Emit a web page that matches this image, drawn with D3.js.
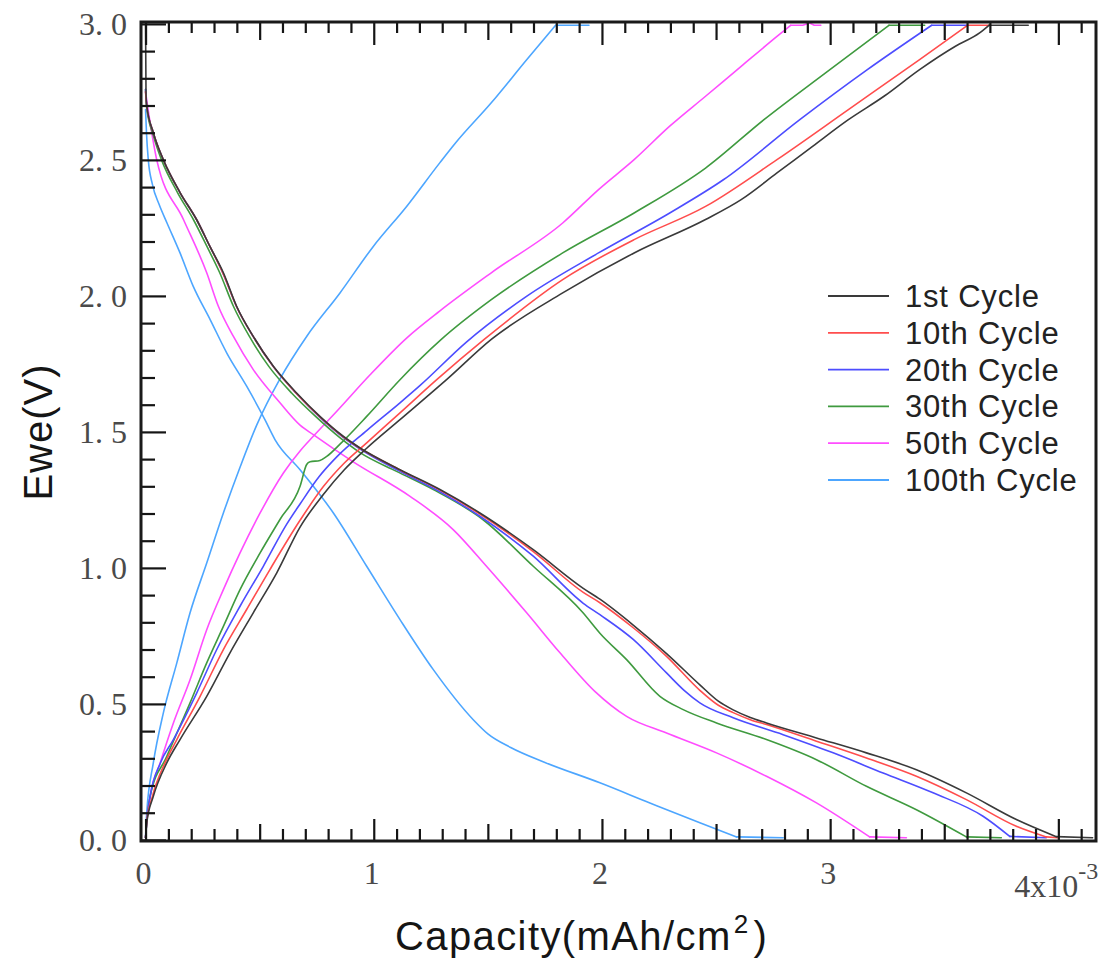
<!DOCTYPE html>
<html>
<head>
<meta charset="utf-8">
<script src="https://cdn.jsdelivr.net/npm/d3@7"></script>
<style>
  html, body { margin: 0; padding: 0; background: #fff; }
  svg { display: block; }
</style>
</head>
<body>
<svg id="chart" width="1109" height="976"></svg>
<script>
// ---------------- DATA ----------------
const cycleNames = ["1st Cycle", "10th Cycle", "20th Cycle", "30th Cycle", "50th Cycle", "100th Cycle"];
const cycleColors = ["#3a3a3a", "#ff4d4d", "#4d4dff", "#3f9a3f", "#ff4dff", "#4da6ff"];

// discharge curves [capacity (x10^-3 mAh/cm2), Ewe (V)]
const dis1 = [[0,2.995],[0.002,2.74],[0.005,2.70],[0.034,2.60],[0.078,2.50],[0.151,2.38],[0.224,2.28],[0.283,2.18],[0.341,2.085],[0.399,1.962],[0.472,1.851],[0.56,1.741],[0.662,1.643],[0.764,1.557],[0.866,1.484],[0.94,1.441],[1.115,1.361],[1.29,1.288],[1.465,1.202],[1.699,1.067],[1.918,0.925],[1.991,0.885],[2.137,0.79],[2.283,0.685],[2.429,0.57],[2.51,0.51],[2.575,0.478],[2.65,0.45],[2.721,0.43],[2.94,0.375],[3.159,0.32],[3.378,0.258],[3.597,0.173],[3.816,0.075],[3.991,0.012],[4.15,0.008]];
const dis10 = [[0,2.75],[0.005,2.70],[0.034,2.60],[0.078,2.50],[0.151,2.38],[0.224,2.28],[0.283,2.18],[0.341,2.08],[0.399,1.96],[0.472,1.85],[0.56,1.74],[0.662,1.64],[0.764,1.555],[0.866,1.482],[0.94,1.44],[1.115,1.36],[1.29,1.286],[1.465,1.198],[1.699,1.06],[1.918,0.91],[1.991,0.872],[2.137,0.78],[2.283,0.675],[2.429,0.55],[2.51,0.495],[2.575,0.468],[2.65,0.442],[2.721,0.424],[2.94,0.363],[3.159,0.301],[3.378,0.234],[3.597,0.148],[3.816,0.05],[3.947,0.011],[3.997,0.008]];
const dis20 = [[0,2.76],[0.005,2.70],[0.034,2.60],[0.078,2.50],[0.151,2.38],[0.224,2.28],[0.283,2.18],[0.341,2.08],[0.399,1.96],[0.472,1.85],[0.56,1.74],[0.662,1.64],[0.764,1.553],[0.866,1.48],[0.94,1.437],[1.115,1.355],[1.29,1.28],[1.465,1.19],[1.699,1.043],[1.918,0.87],[1.991,0.828],[2.137,0.737],[2.283,0.614],[2.36,0.55],[2.429,0.504],[2.575,0.449],[2.794,0.387],[3.013,0.32],[3.232,0.246],[3.451,0.173],[3.67,0.087],[3.787,0.013],[3.947,0.008]];
const dis30 = [[0,2.76],[0.005,2.69],[0.034,2.59],[0.07,2.50],[0.14,2.38],[0.21,2.28],[0.27,2.18],[0.325,2.085],[0.385,1.962],[0.455,1.851],[0.54,1.741],[0.64,1.643],[0.745,1.557],[0.85,1.48],[0.94,1.424],[1.1,1.355],[1.261,1.288],[1.478,1.178],[1.699,1.006],[1.916,0.836],[1.991,0.76],[2.108,0.663],[2.254,0.528],[2.356,0.479],[2.502,0.43],[2.721,0.369],[2.94,0.295],[3.159,0.197],[3.378,0.111],[3.597,0.011],[3.75,0.008]];
const dis50 = [[0,2.75],[0.027,2.60],[0.049,2.50],[0.166,2.281],[0.268,2.085],[0.319,1.962],[0.385,1.851],[0.472,1.729],[0.589,1.607],[0.677,1.525],[0.735,1.49],[0.91,1.39],[1.159,1.263],[1.348,1.141],[1.494,1.006],[1.67,0.835],[1.816,0.688],[1.97,0.545],[2.108,0.454],[2.283,0.393],[2.502,0.32],[2.721,0.234],[2.94,0.136],[3.173,0.011],[3.334,0.008]];
const dis100 = [[0,2.685],[0.004,2.60],[0.012,2.50],[0.03,2.41],[0.06,2.335],[0.093,2.27],[0.151,2.158],[0.209,2.035],[0.283,1.913],[0.356,1.79],[0.443,1.668],[0.523,1.545],[0.567,1.472],[0.677,1.361],[0.823,1.202],[0.969,1.006],[1.115,0.81],[1.261,0.626],[1.436,0.442],[1.5,0.39],[1.6,0.34],[1.75,0.285],[1.991,0.21],[2.21,0.136],[2.429,0.063],[2.59,0.011],[2.794,0.008]];

// charge curves
const chg1 = [[0,0.008],[0.005,0.062],[0.034,0.16],[0.093,0.283],[0.151,0.369],[0.268,0.528],[0.37,0.688],[0.472,0.835],[0.575,0.982],[0.677,1.15],[0.779,1.27],[0.87,1.36],[0.969,1.44],[1.115,1.545],[1.319,1.692],[1.515,1.84],[1.828,2.011],[2.141,2.158],[2.454,2.281],[2.61,2.354],[2.767,2.452],[2.923,2.55],[3.08,2.648],[3.236,2.734],[3.392,2.832],[3.549,2.918],[3.655,2.967],[3.696,2.995],[3.868,2.995]];
const chg10 = [[0,0.008],[0.005,0.065],[0.03,0.16],[0.085,0.283],[0.137,0.369],[0.239,0.528],[0.341,0.70],[0.443,0.847],[0.545,0.994],[0.677,1.175],[0.78,1.30],[0.87,1.385],[0.969,1.46],[1.115,1.57],[1.276,1.692],[1.484,1.84],[1.828,2.06],[2.141,2.207],[2.454,2.329],[2.767,2.501],[3.08,2.685],[3.392,2.869],[3.602,2.995],[3.703,2.995]];
const chg20 = [[0,0.008],[0.005,0.065],[0.02,0.16],[0.065,0.283],[0.122,0.369],[0.224,0.54],[0.312,0.70],[0.414,0.859],[0.516,1.006],[0.618,1.16],[0.677,1.235],[0.76,1.335],[0.84,1.41],[0.969,1.505],[1.115,1.607],[1.202,1.67],[1.406,1.83],[1.671,1.999],[1.985,2.158],[2.297,2.305],[2.532,2.427],[2.867,2.648],[3.16,2.83],[3.445,2.995],[3.603,2.995]];
const chg30 = [[0,0.008],[0.005,0.065],[0.02,0.16],[0.093,0.307],[0.195,0.504],[0.268,0.651],[0.341,0.785],[0.414,0.92],[0.502,1.055],[0.589,1.178],[0.677,1.30],[0.706,1.38],[0.721,1.39],[0.764,1.395],[0.794,1.41],[0.852,1.455],[0.969,1.557],[1.115,1.692],[1.296,1.84],[1.515,1.986],[1.828,2.158],[2.141,2.305],[2.454,2.47],[2.71,2.648],[2.98,2.82],[3.258,2.995],[3.414,2.995]];
const chg50 = [[0,0.008],[0.005,0.07],[0.02,0.16],[0.064,0.283],[0.122,0.43],[0.195,0.589],[0.268,0.773],[0.341,0.92],[0.414,1.055],[0.502,1.202],[0.604,1.349],[0.677,1.43],[0.735,1.484],[0.837,1.575],[0.984,1.71],[1.144,1.845],[1.29,1.945],[1.515,2.085],[1.828,2.268],[1.985,2.391],[2.141,2.501],[2.297,2.624],[2.454,2.734],[2.61,2.844],[2.767,2.954],[2.827,2.995],[2.88,2.995],[2.91,3.003],[2.93,2.995],[2.959,2.995]];
const chg100 = [[0,0.01],[0.005,0.099],[0.034,0.283],[0.078,0.467],[0.137,0.651],[0.195,0.835],[0.268,1.018],[0.341,1.202],[0.414,1.37],[0.487,1.525],[0.589,1.695],[0.706,1.851],[0.852,2.011],[0.998,2.182],[1.144,2.329],[1.29,2.49],[1.359,2.563],[1.515,2.71],[1.671,2.869],[1.797,2.995],[1.943,2.995]];

const dischargeSeries = [dis1, dis10, dis20, dis30, dis50, dis100];
const chargeSeries = [chg1, chg10, chg20, chg30, chg50, chg100];

// tick labels
const xTickValues = [0, 1, 2, 3];
const xTickLabels = ["0", "1", "2", "3"];
const xLastTick = 4;
const xLastLabel = "4x10";
const xLastExp = "-3";
const yTickValues = [0, 0.5, 1.0, 1.5, 2.0, 2.5, 3.0];
const yTickLabels = ["0. 0", "0. 5", "1. 0", "1. 5", "2. 0", "2. 5", "3. 0"];

// ---------------- LAYOUT ----------------
const L = 141, R = 1096, T = 22, B = 841;
const svg = d3.select("#chart");
svg.append("rect").attr("width", 1109).attr("height", 976).attr("fill", "#fff");

const x = d3.scaleLinear().domain([-0.02, 4.165]).range([L, R]);
const y = d3.scaleLinear().domain([-0.004, 3.007]).range([B, T]);

const smooth = d3.line().x(d => x(d[0])).y(d => y(d[1])).curve(d3.curveMonotoneX);
const straight = d3.line().x(d => x(d[0])).y(d => y(d[1]));

// split a series into its sloped part (smoothed) and the flat end-plateau (straight)
function drawSeries(g, pts, color, isCharge) {
  let k = pts.findIndex((p, i) => i > 0 && (isCharge ? p[1] >= 2.99 : p[1] <= 0.015));
  if (k < 0) k = pts.length - 1;
  g.append("path").attr("d", smooth(pts.slice(0, k + 1))).attr("stroke", color);
  g.append("path").attr("d", straight(pts.slice(k))).attr("stroke", color);
}

// curves (draw 100th first so 1st ends on top)
const order = [5, 4, 3, 2, 1, 0];
const curves = svg.append("g").attr("fill", "none").attr("stroke-width", 1.6)
  .attr("stroke-linejoin", "round").attr("stroke-linecap", "round");
order.forEach(i => {
  drawSeries(curves, chargeSeries[i], cycleColors[i], true);
  drawSeries(curves, dischargeSeries[i], cycleColors[i], false);
});

// ticks
const tickCol = "#151515";
const xt = d3.range(0, 42).map(i => i / 10);
const yt = d3.range(0, 31).map(i => i / 10);
const isMul = (v, m) => Math.abs(v / m - Math.round(v / m)) < 1e-6;

function addAxis(axisFn, scale, vals, size, transform) {
  const g = svg.append("g").attr("transform", transform)
    .call(axisFn(scale).tickValues(vals).tickSizeInner(size).tickSizeOuter(0).tickFormat(""));
  g.select(".domain").remove();
  g.selectAll(".tick line").attr("stroke", tickCol).attr("stroke-width", 2.2);
}
// bottom (inward)
addAxis(d3.axisBottom, x, xt.filter(v => isMul(v, 1)), -22, `translate(0,${B})`);
addAxis(d3.axisBottom, x, xt.filter(v => !isMul(v, 1) && isMul(v, 0.5)), -17, `translate(0,${B})`);
addAxis(d3.axisBottom, x, xt.filter(v => !isMul(v, 0.5)), -12, `translate(0,${B})`);
// top (inward)
addAxis(d3.axisTop, x, xt.filter(v => isMul(v, 1)), -23, `translate(0,${T})`);
addAxis(d3.axisTop, x, xt.filter(v => !isMul(v, 1) && isMul(v, 0.5)), -18, `translate(0,${T})`);
addAxis(d3.axisTop, x, xt.filter(v => !isMul(v, 0.5)), -11, `translate(0,${T})`);
// left (inward)
addAxis(d3.axisLeft, y, yt.filter(v => isMul(v, 0.5)), -25, `translate(${L},0)`);
addAxis(d3.axisLeft, y, yt.filter(v => !isMul(v, 0.5)), -14, `translate(${L},0)`);

// frame
svg.append("rect").attr("x", L).attr("y", T).attr("width", R - L).attr("height", B - T)
  .attr("fill", "none").attr("stroke", "#1a1a1a").attr("stroke-width", 3);

// tick labels
const labFont = "'Liberation Serif', 'DejaVu Serif', serif";
const labCol = "#4a4a4a";
svg.append("g").selectAll("text").data(yTickValues).join("text")
  .attr("x", 127).attr("y", d => y(d)).attr("dy", "0.34em")
  .attr("text-anchor", "end").attr("font-family", labFont).attr("font-size", 32).attr("fill", labCol)
  .text((d, i) => yTickLabels[i]);
svg.append("g").selectAll("text").data(xTickValues).join("text")
  .attr("x", d => x(d) - 2).attr("y", 884)
  .attr("text-anchor", "middle").attr("font-family", labFont).attr("font-size", 32).attr("fill", labCol)
  .text((d, i) => xTickLabels[i]);
const lastT = svg.append("text").attr("x", x(xLastTick) - 44).attr("y", 897)
  .attr("font-family", labFont).attr("font-size", 32).attr("fill", labCol);
lastT.append("tspan").text(xLastLabel);
lastT.append("tspan").attr("dy", -18).attr("font-size", 24).text(xLastExp);

// axis titles
const titleFont = "'Liberation Sans', Arial, sans-serif";
svg.append("text").attr("transform", "translate(52,432) rotate(-90)")
  .attr("text-anchor", "middle").attr("font-family", titleFont).attr("font-size", 40)
  .attr("letter-spacing", 1).attr("fill", "#151515")
  .text("Ewe(V)");
const xt2 = svg.append("text").attr("x", 395).attr("y", 950)
  .attr("font-family", titleFont).attr("font-size", 40).attr("letter-spacing", 1.4).attr("fill", "#151515");
xt2.append("tspan").text("Capacity(mAh/cm");
xt2.append("tspan").attr("dy", -17).attr("dx", 2).attr("font-size", 26).text("2");
xt2.append("tspan").attr("dy", 17).attr("dx", 4).text(")");

// legend
const legend = svg.append("g");
cycleNames.forEach((name, i) => {
  const ly = 296 + i * 36.8;
  legend.append("line").attr("x1", 828).attr("x2", 889).attr("y1", ly).attr("y2", ly)
    .attr("stroke", cycleColors[i]).attr("stroke-width", 1.8);
  legend.append("text").attr("x", 905).attr("y", ly + 11)
    .attr("font-family", titleFont).attr("font-size", 31).attr("letter-spacing", 0.8)
    .attr("fill", "#222").text(name);
});
</script>
</body>
</html>
